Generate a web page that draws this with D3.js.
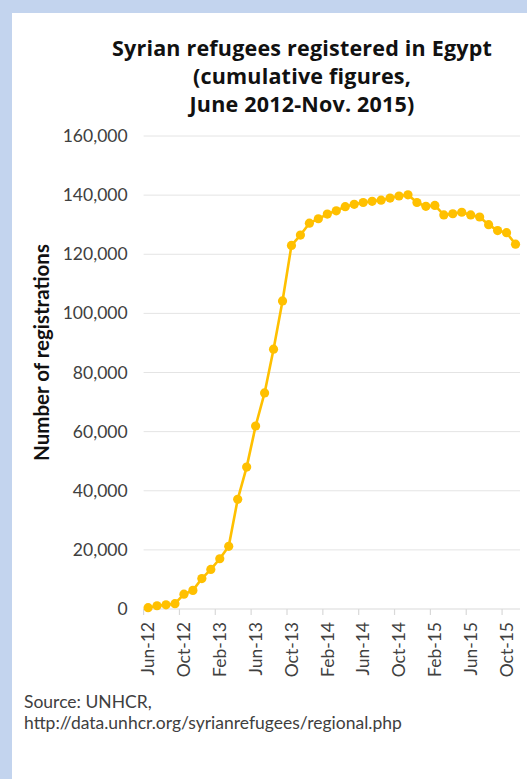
<!DOCTYPE html>
<html>
<head>
<meta charset="utf-8">
<script src="https://cdn.jsdelivr.net/npm/d3@7"></script>
<style>
  body { margin: 0; background: #fff; }
  text { font-family: Lato, "Open Sans", sans-serif; }
  text.tt { font-family: "Open Sans", sans-serif; letter-spacing: 0.2px; }
</style>
</head>
<body>
<div id="chart"></div>
<script>
const months = [
  'Jun-12', 'Jul-12', 'Aug-12', 'Sep-12', 'Oct-12', 'Nov-12', 'Dec-12',
  'Jan-13', 'Feb-13', 'Mar-13', 'Apr-13', 'May-13', 'Jun-13', 'Jul-13',
  'Aug-13', 'Sep-13', 'Oct-13', 'Nov-13', 'Dec-13', 'Jan-14', 'Feb-14',
  'Mar-14', 'Apr-14', 'May-14', 'Jun-14', 'Jul-14', 'Aug-14', 'Sep-14',
  'Oct-14', 'Nov-14', 'Dec-14', 'Jan-15', 'Feb-15', 'Mar-15', 'Apr-15',
  'May-15', 'Jun-15', 'Jul-15', 'Aug-15', 'Sep-15', 'Oct-15', 'Nov-15'
];
const registrations = [
  450, 1100, 1400, 1800, 5000, 6300, 10300,
  13400, 17000, 21200, 37100, 48000, 61900, 73100,
  87900, 104200, 123000, 126500, 130500, 132000, 133600,
  134700, 136100, 136900, 137500, 137900, 138300, 139000,
  139700, 140100, 137500, 136200, 136500, 133300, 133700,
  134200, 133300, 132600, 130000, 128000, 127300, 123400
];
const yTicks = [0, 20000, 40000, 60000, 80000, 100000, 120000, 140000, 160000];
const xTickLabels = ['Jun-12', 'Oct-12', 'Feb-13', 'Jun-13', 'Oct-13', 'Feb-14',
  'Jun-14', 'Oct-14', 'Feb-15', 'Jun-15', 'Oct-15'];

const width = 527;
const height = 779;
const margin = { top: 136, right: 7, bottom: 170, left: 143.6 };

const svg = d3.select('#chart')
  .append('svg')
  .attr('width', width)
  .attr('height', height);

// blue frame
svg.append('rect')
  .attr('width', width).attr('height', height)
  .attr('fill', '#c3d4ee');
svg.append('rect')
  .attr('x', 12).attr('y', 13)
  .attr('width', width - 12).attr('height', height - 13)
  .attr('fill', '#fff');

const x = d3.scaleBand()
  .domain(months)
  .range([margin.left, width - margin.right])
  .padding(0);

const y = d3.scaleLinear()
  .domain([0, 160000])
  .range([height - margin.bottom, margin.top]);

// gridlines
svg.append('g')
  .selectAll('line')
  .data(yTicks.slice(1))
  .join('line')
    .attr('x1', margin.left)
    .attr('x2', width - margin.right)
    .attr('y1', d => y(d))
    .attr('y2', d => y(d))
    .attr('stroke', '#e4e4e4')
    .attr('stroke-width', 1);

// y axis labels
svg.append('g')
  .attr('transform', `translate(${margin.left}, 0)`)
  .call(d3.axisLeft(y).tickValues(yTicks).tickSize(0).tickPadding(16)
    .tickFormat(d3.format(',')))
  .call(g => g.select('.domain').remove())
  .call(g => g.selectAll('text')
    .attr('font-size', '17.5px')
    .attr('fill', '#404040'));

// x axis
const x0 = y(0);
svg.append('line')
  .attr('x1', margin.left).attr('x2', width - margin.right)
  .attr('y1', x0).attr('y2', x0)
  .attr('stroke', '#d9d9d9').attr('stroke-width', 1.2);

svg.append('g')
  .selectAll('line')
  .data(xTickLabels)
  .join('line')
    .attr('x1', d => x(d)).attr('x2', d => x(d))
    .attr('y1', x0).attr('y2', x0 + 6)
    .attr('stroke', '#d9d9d9').attr('stroke-width', 1.2);

svg.append('g')
  .selectAll('text')
  .data(xTickLabels)
  .join('text')
    .attr('transform', d => `translate(${x(d) + x.bandwidth() / 2}, ${x0 + 13}) rotate(-90)`)
    .attr('text-anchor', 'end')
    .attr('dy', '0.36em')
    .attr('font-size', '17.5px')
    .attr('fill', '#404040')
    .text(d => d);

// line + markers
const pts = months.map((m, i) => ({ m, v: registrations[i] }));
const line = d3.line()
  .x(d => x(d.m) + x.bandwidth() / 2)
  .y(d => y(d.v));

svg.append('path')
  .datum(pts)
  .attr('fill', 'none')
  .attr('stroke', '#ffc000')
  .attr('stroke-width', 2.6)
  .attr('stroke-linejoin', 'round')
  .attr('d', line);

svg.append('g')
  .attr('fill', '#ffc000')
  .selectAll('circle')
  .data(pts)
  .join('circle')
    .attr('cx', d => x(d.m) + x.bandwidth() / 2)
    .attr('cy', d => y(d.v))
    .attr('r', 4.6);

// title
const title = ['Syrian refugees registered in Egypt', '(cumulative figures,', 'June 2012-Nov. 2015)'];
svg.append('g')
  .selectAll('text')
  .data(title)
  .join('text')
    .attr('class', 'tt')
    .attr('x', 302)
    .attr('y', (d, i) => 56 + i * 28)
    .attr('text-anchor', 'middle')
    .attr('font-size', '21.5px')
    .attr('font-weight', 'bold')
    .attr('fill', '#111')
    .text(d => d);

// y axis title
svg.append('text')
  .attr('transform', `translate(49, ${(240 + 465) / 2}) rotate(-90)`)
  .attr('text-anchor', 'middle')
  .attr('font-size', '20.5px')
  .attr('font-weight', 'bold')
  .attr('fill', '#111')
  .text('Number of registrations');

// source note
svg.append('g')
  .selectAll('text')
  .data(['Source: UNHCR,', 'http://data.unhcr.org/syrianrefugees/regional.php'])
  .join('text')
    .attr('x', 24)
    .attr('y', (d, i) => 708 + i * 21)
    .attr('font-size', '17.5px')
    .attr('fill', '#404040')
    .text(d => d);
</script>
</body>
</html>
